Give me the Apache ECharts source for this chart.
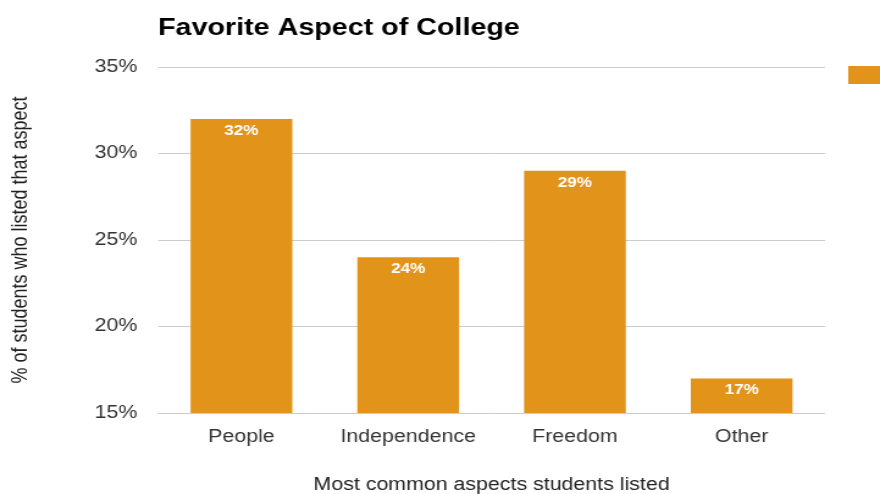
<!DOCTYPE html>
<html>
<head>
<meta charset="utf-8">
<script src="https://cdn.jsdelivr.net/npm/echarts@6/dist/echarts.min.js"></script>
<style>
  html, body { margin: 0; padding: 0; background: #fff; overflow: hidden; }
  #wrap { width: 880px; height: 494px; overflow: hidden; }
  /* the chart is drawn on a narrower canvas and widened to the page width */
  #chart { width: 721px; height: 494px; transform: scaleX(1.2205); transform-origin: 0 0; }
</style>
</head>
<body>
<div id="wrap"><div id="chart"></div></div>
<script>
// Favorite aspects of college, share of students who listed each one
const categories = ['People', 'Independence', 'Freedom', 'Other'];
const percentListed = [32, 24, 29, 17];
const seriesName = '% of students';
const yTicks = { min: 15, max: 35, interval: 5 };

const FONT = 'Liberation Sans, Arial, Helvetica, sans-serif';

const chart = echarts.init(document.getElementById('chart'), null, { renderer: 'canvas' });
chart.setOption({
  animation: false,
  backgroundColor: '#ffffff',
  title: {
    text: 'Favorite Aspect of College',
    left: 124.5,
    top: 12,
    textStyle: { fontFamily: FONT, fontSize: 23.5, fontWeight: 'bold', color: '#000' }
  },
  legend: {
    data: [seriesName],
    left: 695,
    top: 66,
    padding: 0,
    icon: 'rect',
    itemWidth: 27,
    itemHeight: 18,
    textStyle: { fontFamily: FONT, fontSize: 16, color: '#222' }
  },
  grid: {
    left: 129.5, right: 45, top: 67, bottom: 81,
    containLabel: false,
    outerBoundsMode: 'none'
  },
  xAxis: {
    type: 'category',
    data: categories,
    name: 'Most common aspects students listed',
    nameLocation: 'middle',
    nameGap: 63,
    nameTextStyle: { fontFamily: FONT, fontSize: 17.5, color: '#222' },
    axisLine: { show: false },
    axisTick: { show: false },
    axisLabel: { interval: 0, margin: 15, fontFamily: FONT, fontSize: 17.5, color: '#333' }
  },
  yAxis: {
    type: 'value',
    min: yTicks.min,
    max: yTicks.max,
    interval: yTicks.interval,
    name: '% of students who listed that aspect',
    nameLocation: 'middle',
    nameGap: 103,
    nameTextStyle: { fontFamily: FONT, fontSize: 18, color: '#222' },
    axisLabel: {
      formatter: '{value}%',
      margin: 17,
      fontFamily: FONT,
      fontSize: 17.5,
      color: '#333'
    },
    splitLine: { lineStyle: { color: '#cccccc', width: 1 } },
    axisLine: { show: false },
    axisTick: { show: false }
  },
  series: [{
    name: seriesName,
    type: 'bar',
    data: percentListed,
    barWidth: '61%',
    itemStyle: { color: '#E2931A' },
    label: {
      show: true,
      position: 'insideTop',
      distance: 5,
      formatter: '{c}%',
      color: '#fff',
      fontFamily: FONT,
      fontSize: 14,
      fontWeight: 'bold'
    }
  }]
});
</script>
</body>
</html>
